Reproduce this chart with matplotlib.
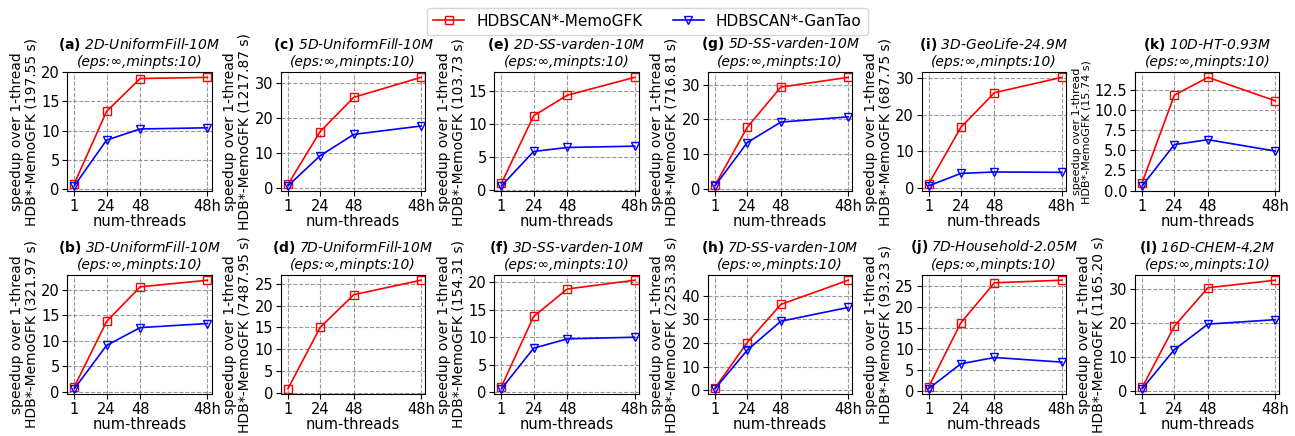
import numpy as np
from matplotlib import pyplot as plt
from matplotlib.ticker import MaxNLocator

threads = [1, 24, 48, 96]
thread_labels = ['1', '24', '48', '48h']

panels = ['(a)', '(c)', '(e)', '(g)', '(i)', '(k)',
          '(b)', '(d)', '(f)', '(h)', '(j)', '(l)']
datasets = ['2D-UniformFill-10M', '5D-UniformFill-10M', '2D-SS-varden-10M',
            '5D-SS-varden-10M', '3D-GeoLife-24.9M', '10D-HT-0.93M',
            '3D-UniformFill-10M', '7D-UniformFill-10M', '3D-SS-varden-10M',
            '7D-SS-varden-10M', '7D-Household-2.05M', '16D-CHEM-4.2M']
base_times = ['197.55', '1217.87', '103.73', '716.81', '687.75', '15.74',
              '321.97', '7487.95', '154.31', '2253.38', '93.23', '1165.20']

memogfk = [
    [1, 13.3, 18.9, 19.1],
    [1, 16.1, 25.9, 31.6],
    [1, 11.2, 14.3, 17.0],
    [1, 17.7, 29.3, 32.1],
    [1, 16.5, 26.0, 30.2],
    [1, 11.8, 14.0, 11.1],
    [1, 13.8, 20.6, 21.9],
    [1, 15.0, 22.5, 25.8],
    [1, 13.8, 18.8, 20.4],
    [1, 20.2, 36.3, 46.5],
    [1, 16.2, 25.7, 26.3],
    [1, 19.0, 30.3, 32.5],
]
gantao = [
    [0.6, 8.4, 10.3, 10.5],
    [0.6, 9.2, 15.3, 17.7],
    [0.6, 5.8, 6.4, 6.6],
    [0.8, 13.3, 19.2, 20.7],
    [0.5, 3.9, 4.3, 4.2],
    [0.6, 5.7, 6.3, 4.9],
    [0.6, 9.1, 12.6, 13.4],
    None,
    [0.6, 8.0, 9.7, 10.0],
    [0.7, 17.0, 29.2, 35.0],
    [0.6, 6.5, 8.0, 6.9],
    [0.6, 12.1, 19.6, 20.9],
]

fig, axes = plt.subplots(2, 6, figsize=(12.95, 4.36), dpi=100)
plt.subplots_adjust(left=0.052, right=0.988, top=0.835, bottom=0.096,
                    wspace=0.48, hspace=0.70)

for i, ax in enumerate(axes.flat):
    l1, = ax.plot(threads, memogfk[i], color='red', marker='s', fillstyle='none',
                  markersize=6, lw=1.2, label='HDBSCAN*-MemoGFK')
    if gantao[i] is not None:
        l2, = ax.plot(threads, gantao[i], color='blue', marker='v', fillstyle='none',
                      markersize=6, lw=1.2, label='HDBSCAN*-GanTao')
    ax.set_xticks(threads)
    ax.set_xticklabels(thread_labels)
    ax.set_xlim(-4, 99)
    ax.yaxis.set_major_locator(MaxNLocator(nbins=6, steps=[1, 2, 2.5, 5, 10]))
    ax.tick_params(labelsize=10.5, pad=2)
    ax.grid(True, linestyle='--', color='gray', linewidth=0.8, alpha=0.8)
    ax.set_xlabel('num-threads', fontsize=10.5, labelpad=0)
    ylfs = 8 if datasets[i] == '10D-HT-0.93M' else 10
    ax.set_ylabel('speedup over 1-thread\nHDB*-MemoGFK (%s s)' % base_times[i],
                  fontsize=ylfs, labelpad=2, linespacing=1.05)
    ax.set_title(r'$\bf{' + panels[i] + '}$ ' + datasets[i] + '\n(eps:\u221e,minpts:10)',
                 fontsize=10, fontstyle='italic', pad=4)

fig.legend([l1, l2], ['HDBSCAN*-MemoGFK', 'HDBSCAN*-GanTao'], loc='upper center',
           ncol=2, bbox_to_anchor=(0.5, 1.0), fontsize=11, frameon=True,
           columnspacing=2.0)

plt.savefig('out.png')
